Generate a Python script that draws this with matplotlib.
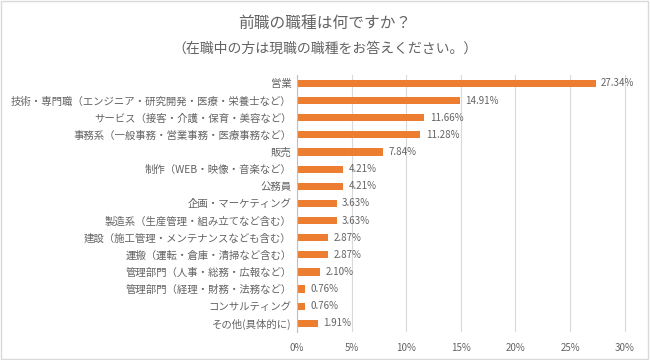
import matplotlib.pyplot as plt
from matplotlib.patches import Rectangle

plt.rcParams['font.family'] = ['Noto Sans CJK JP', 'DejaVu Sans']

# Data
categories = ['営業', '技術・専門職（エンジニア・研究開発・医療・栄養士など）',
              'サービス（接客・介護・保育・美容など）',
              '事務系（一般事務・営業事務・医療事務など）', '販売',
              '制作（WEB・映像・音楽など）', '公務員', '企画・マーケティング',
              '製造系（生産管理・組み立てなど含む）',
              '建設（施工管理・メンテナンスなども含む）',
              '運搬（運転・倉庫・清掃など含む）', '管理部門（人事・総務・広報など）',
              '管理部門（経理・財務・法務など）', 'コンサルティング', 'その他(具体的に)']
values = [27.34, 14.91, 11.66, 11.28, 7.84, 4.21, 4.21, 3.63, 3.63, 2.87, 2.87, 2.10, 0.76, 0.76, 1.91]
xticks = [0, 5, 10, 15, 20, 25, 30]

gray = '#636363'
fig = plt.figure(figsize=(6.5, 3.6), dpi=100)
ax = fig.add_axes([0.457, 0.078, 0.509, 0.714])

y = list(range(len(categories)))[::-1]
ax.barh(y, values, height=0.42, color='#ED7D31')
for yi, v in zip(y, values):
    ax.text(v + 0.5, yi, f'{v:.2f}%', va='center', ha='left', fontsize=7, color=gray)

ax.set_xlim(0, 30.3)
ax.set_ylim(-0.5, len(categories) - 0.5)
ax.set_xticks(xticks)
ax.set_xticklabels([f'{t}%' for t in xticks], fontsize=7, color=gray)
ax.set_yticks(y)
ax.set_yticklabels(categories, fontsize=7.5, color=gray)
ax.tick_params(length=0, pad=8)
ax.tick_params(axis='y', pad=4)
ax.grid(axis='x', color='#d9d9d9', linewidth=0.8)
ax.set_axisbelow(True)
for s in ['top', 'right', 'bottom']:
    ax.spines[s].set_visible(False)
ax.spines['left'].set_color('#bfbfbf')

fig.text(0.5, 0.935, '前職の職種は何ですか？', ha='center', va='center', fontsize=11.3, color=gray)
fig.text(0.5, 0.865, '（在職中の方は現職の職種をお答えください。）', ha='center', va='center', fontsize=10, color=gray)

fig.patches.append(Rectangle((0.002, 0.003), 0.995, 0.994, transform=fig.transFigure,
                             fill=False, edgecolor='#d9d9d9', linewidth=1))

fig.savefig('out.png', dpi=100)
